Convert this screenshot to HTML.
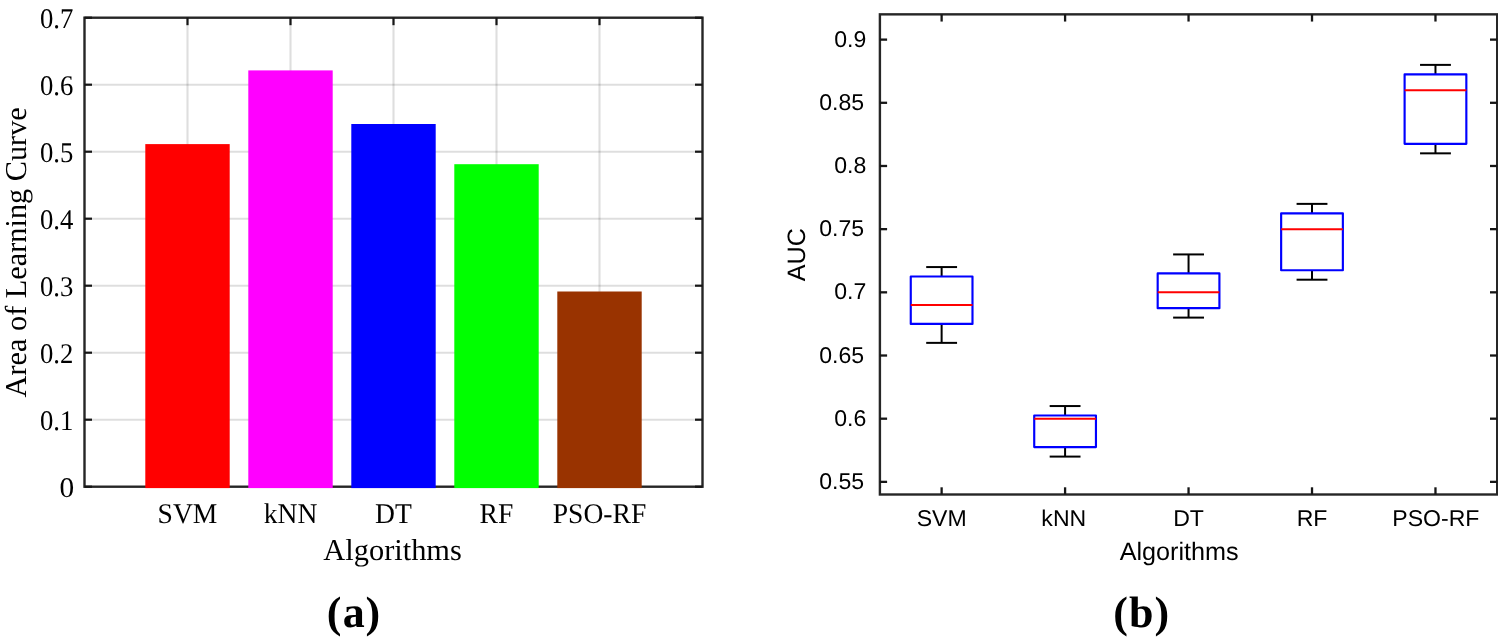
<!DOCTYPE html>
<html><head><meta charset="utf-8"><title>Figure</title>
<style>
html,body{margin:0;padding:0;background:#fff;}
body{width:1498px;height:641px;overflow:hidden;}
svg{display:block;}
text{text-rendering:geometricPrecision;}
.t{font-family:"Liberation Serif","Times New Roman",serif;fill:#000;}
.s{font-family:"Liberation Sans",Arial,sans-serif;fill:#000;}
</style></head><body>
<svg width="1498" height="641" viewBox="0 0 1498 641">
<rect width="1498" height="641" fill="#fff"/>
<g id="left">
<line x1="187.50" y1="17.7" x2="187.50" y2="486.7" stroke="#000" stroke-opacity="0.13" stroke-width="2.1"/>
<line x1="290.50" y1="17.7" x2="290.50" y2="486.7" stroke="#000" stroke-opacity="0.13" stroke-width="2.1"/>
<line x1="393.50" y1="17.7" x2="393.50" y2="486.7" stroke="#000" stroke-opacity="0.13" stroke-width="2.1"/>
<line x1="496.50" y1="17.7" x2="496.50" y2="486.7" stroke="#000" stroke-opacity="0.13" stroke-width="2.1"/>
<line x1="599.50" y1="17.7" x2="599.50" y2="486.7" stroke="#000" stroke-opacity="0.13" stroke-width="2.1"/>
<line x1="84.5" y1="419.70" x2="702.5" y2="419.70" stroke="#000" stroke-opacity="0.13" stroke-width="2.1"/>
<line x1="84.5" y1="352.70" x2="702.5" y2="352.70" stroke="#000" stroke-opacity="0.13" stroke-width="2.1"/>
<line x1="84.5" y1="285.70" x2="702.5" y2="285.70" stroke="#000" stroke-opacity="0.13" stroke-width="2.1"/>
<line x1="84.5" y1="218.70" x2="702.5" y2="218.70" stroke="#000" stroke-opacity="0.13" stroke-width="2.1"/>
<line x1="84.5" y1="151.70" x2="702.5" y2="151.70" stroke="#000" stroke-opacity="0.13" stroke-width="2.1"/>
<line x1="84.5" y1="84.70" x2="702.5" y2="84.70" stroke="#000" stroke-opacity="0.13" stroke-width="2.1"/>
<rect x="84.5" y="17.7" width="618.0" height="469.0" fill="none" stroke="#262626" stroke-width="2.4"/>
<line x1="187.50" y1="17.7" x2="187.50" y2="25.2" stroke="#161616" stroke-width="2.2"/>
<line x1="187.50" y1="486.7" x2="187.50" y2="479.2" stroke="#161616" stroke-width="2.2"/>
<line x1="290.50" y1="17.7" x2="290.50" y2="25.2" stroke="#161616" stroke-width="2.2"/>
<line x1="290.50" y1="486.7" x2="290.50" y2="479.2" stroke="#161616" stroke-width="2.2"/>
<line x1="393.50" y1="17.7" x2="393.50" y2="25.2" stroke="#161616" stroke-width="2.2"/>
<line x1="393.50" y1="486.7" x2="393.50" y2="479.2" stroke="#161616" stroke-width="2.2"/>
<line x1="496.50" y1="17.7" x2="496.50" y2="25.2" stroke="#161616" stroke-width="2.2"/>
<line x1="496.50" y1="486.7" x2="496.50" y2="479.2" stroke="#161616" stroke-width="2.2"/>
<line x1="599.50" y1="17.7" x2="599.50" y2="25.2" stroke="#161616" stroke-width="2.2"/>
<line x1="599.50" y1="486.7" x2="599.50" y2="479.2" stroke="#161616" stroke-width="2.2"/>
<line x1="84.5" y1="486.70" x2="92.0" y2="486.70" stroke="#161616" stroke-width="2.2"/>
<line x1="702.5" y1="486.70" x2="695.0" y2="486.70" stroke="#161616" stroke-width="2.2"/>
<line x1="84.5" y1="419.70" x2="92.0" y2="419.70" stroke="#161616" stroke-width="2.2"/>
<line x1="702.5" y1="419.70" x2="695.0" y2="419.70" stroke="#161616" stroke-width="2.2"/>
<line x1="84.5" y1="352.70" x2="92.0" y2="352.70" stroke="#161616" stroke-width="2.2"/>
<line x1="702.5" y1="352.70" x2="695.0" y2="352.70" stroke="#161616" stroke-width="2.2"/>
<line x1="84.5" y1="285.70" x2="92.0" y2="285.70" stroke="#161616" stroke-width="2.2"/>
<line x1="702.5" y1="285.70" x2="695.0" y2="285.70" stroke="#161616" stroke-width="2.2"/>
<line x1="84.5" y1="218.70" x2="92.0" y2="218.70" stroke="#161616" stroke-width="2.2"/>
<line x1="702.5" y1="218.70" x2="695.0" y2="218.70" stroke="#161616" stroke-width="2.2"/>
<line x1="84.5" y1="151.70" x2="92.0" y2="151.70" stroke="#161616" stroke-width="2.2"/>
<line x1="702.5" y1="151.70" x2="695.0" y2="151.70" stroke="#161616" stroke-width="2.2"/>
<line x1="84.5" y1="84.70" x2="92.0" y2="84.70" stroke="#161616" stroke-width="2.2"/>
<line x1="702.5" y1="84.70" x2="695.0" y2="84.70" stroke="#161616" stroke-width="2.2"/>
<line x1="84.5" y1="17.70" x2="92.0" y2="17.70" stroke="#161616" stroke-width="2.2"/>
<line x1="702.5" y1="17.70" x2="695.0" y2="17.70" stroke="#161616" stroke-width="2.2"/>
<rect x="145.30" y="144.10" width="84.40" height="344.00" fill="#ff0000"/>
<rect x="248.30" y="70.40" width="84.40" height="417.70" fill="#ff00ff"/>
<rect x="351.30" y="124.00" width="84.40" height="364.10" fill="#0000ff"/>
<rect x="454.30" y="164.20" width="84.40" height="323.90" fill="#00ff00"/>
<rect x="557.30" y="291.50" width="84.40" height="196.60" fill="#993300"/>
<text class="t" transform="translate(74.2 497.40) scale(1.03 1)" font-size="28.5" text-anchor="end">0</text>
<text class="t" transform="translate(73.3 430.40) scale(0.937 1)" font-size="28.5" text-anchor="end">0.1</text>
<text class="t" transform="translate(73.3 363.40) scale(0.937 1)" font-size="28.5" text-anchor="end">0.2</text>
<text class="t" transform="translate(73.3 296.40) scale(0.937 1)" font-size="28.5" text-anchor="end">0.3</text>
<text class="t" transform="translate(73.3 229.40) scale(0.937 1)" font-size="28.5" text-anchor="end">0.4</text>
<text class="t" transform="translate(73.3 162.40) scale(0.937 1)" font-size="28.5" text-anchor="end">0.5</text>
<text class="t" transform="translate(73.3 95.40) scale(0.937 1)" font-size="28.5" text-anchor="end">0.6</text>
<text class="t" transform="translate(73.3 28.40) scale(0.937 1)" font-size="28.5" text-anchor="end">0.7</text>
<text class="t" transform="translate(187.50 523.3) scale(0.968 1)" font-size="28.5" text-anchor="middle">SVM</text>
<text class="t" transform="translate(290.50 523.3) scale(0.968 1)" font-size="28.5" text-anchor="middle">kNN</text>
<text class="t" transform="translate(393.50 523.3) scale(0.968 1)" font-size="28.5" text-anchor="middle">DT</text>
<text class="t" transform="translate(496.50 523.3) scale(0.968 1)" font-size="28.5" text-anchor="middle">RF</text>
<text class="t" transform="translate(599.50 523.3) scale(0.968 1)" font-size="28.5" text-anchor="middle">PSO-RF</text>
<text class="t" x="392.6" y="559.6" font-size="30.4" text-anchor="middle">Algorithms</text>
<text class="t" transform="translate(26.4 252.3) rotate(-90)" font-size="30.3" text-anchor="middle">Area of Learning Curve</text>
<text class="t" x="326.85 342.7 365.5" y="627.2" font-size="44" font-weight="bold">(a)</text>
</g>
<g id="right">
<rect x="879.9" y="14.35" width="617.30" height="480.15" fill="none" stroke="#262626" stroke-width="2.4"/>
<line x1="941.63" y1="14.35" x2="941.63" y2="21.55" stroke="#161616" stroke-width="2.3"/>
<line x1="941.63" y1="494.5" x2="941.63" y2="487.3" stroke="#161616" stroke-width="2.3"/>
<line x1="1065.09" y1="14.35" x2="1065.09" y2="21.55" stroke="#161616" stroke-width="2.3"/>
<line x1="1065.09" y1="494.5" x2="1065.09" y2="487.3" stroke="#161616" stroke-width="2.3"/>
<line x1="1188.55" y1="14.35" x2="1188.55" y2="21.55" stroke="#161616" stroke-width="2.3"/>
<line x1="1188.55" y1="494.5" x2="1188.55" y2="487.3" stroke="#161616" stroke-width="2.3"/>
<line x1="1312.01" y1="14.35" x2="1312.01" y2="21.55" stroke="#161616" stroke-width="2.3"/>
<line x1="1312.01" y1="494.5" x2="1312.01" y2="487.3" stroke="#161616" stroke-width="2.3"/>
<line x1="1435.47" y1="14.35" x2="1435.47" y2="21.55" stroke="#161616" stroke-width="2.3"/>
<line x1="1435.47" y1="494.5" x2="1435.47" y2="487.3" stroke="#161616" stroke-width="2.3"/>
<line x1="879.9" y1="481.86" x2="887.1" y2="481.86" stroke="#161616" stroke-width="2.3"/>
<line x1="1497.2" y1="481.86" x2="1490.0" y2="481.86" stroke="#161616" stroke-width="2.3"/>
<text class="s" transform="translate(864.2 488.96) scale(1.012 1)" font-size="22.8" text-anchor="end">0.55</text>
<line x1="879.9" y1="418.69" x2="887.1" y2="418.69" stroke="#161616" stroke-width="2.3"/>
<line x1="1497.2" y1="418.69" x2="1490.0" y2="418.69" stroke="#161616" stroke-width="2.3"/>
<text class="s" transform="translate(866.3 425.79) scale(1.012 1)" font-size="22.8" text-anchor="end">0.6</text>
<line x1="879.9" y1="355.51" x2="887.1" y2="355.51" stroke="#161616" stroke-width="2.3"/>
<line x1="1497.2" y1="355.51" x2="1490.0" y2="355.51" stroke="#161616" stroke-width="2.3"/>
<text class="s" transform="translate(864.2 362.61) scale(1.012 1)" font-size="22.8" text-anchor="end">0.65</text>
<line x1="879.9" y1="292.33" x2="887.1" y2="292.33" stroke="#161616" stroke-width="2.3"/>
<line x1="1497.2" y1="292.33" x2="1490.0" y2="292.33" stroke="#161616" stroke-width="2.3"/>
<text class="s" transform="translate(866.3 299.43) scale(1.012 1)" font-size="22.8" text-anchor="end">0.7</text>
<line x1="879.9" y1="229.15" x2="887.1" y2="229.15" stroke="#161616" stroke-width="2.3"/>
<line x1="1497.2" y1="229.15" x2="1490.0" y2="229.15" stroke="#161616" stroke-width="2.3"/>
<text class="s" transform="translate(864.2 236.25) scale(1.012 1)" font-size="22.8" text-anchor="end">0.75</text>
<line x1="879.9" y1="165.98" x2="887.1" y2="165.98" stroke="#161616" stroke-width="2.3"/>
<line x1="1497.2" y1="165.98" x2="1490.0" y2="165.98" stroke="#161616" stroke-width="2.3"/>
<text class="s" transform="translate(866.3 173.08) scale(1.012 1)" font-size="22.8" text-anchor="end">0.8</text>
<line x1="879.9" y1="102.80" x2="887.1" y2="102.80" stroke="#161616" stroke-width="2.3"/>
<line x1="1497.2" y1="102.80" x2="1490.0" y2="102.80" stroke="#161616" stroke-width="2.3"/>
<text class="s" transform="translate(864.2 109.90) scale(1.012 1)" font-size="22.8" text-anchor="end">0.85</text>
<line x1="879.9" y1="39.62" x2="887.1" y2="39.62" stroke="#161616" stroke-width="2.3"/>
<line x1="1497.2" y1="39.62" x2="1490.0" y2="39.62" stroke="#161616" stroke-width="2.3"/>
<text class="s" transform="translate(866.3 46.72) scale(1.012 1)" font-size="22.8" text-anchor="end">0.9</text>
<line x1="941.63" y1="267.06" x2="941.63" y2="276.54" stroke="#000" stroke-width="2"/>
<line x1="941.63" y1="323.92" x2="941.63" y2="342.87" stroke="#000" stroke-width="2"/>
<line x1="926.20" y1="267.06" x2="957.06" y2="267.06" stroke="#000" stroke-width="2"/>
<line x1="926.20" y1="342.87" x2="957.06" y2="342.87" stroke="#000" stroke-width="2"/>
<rect x="910.76" y="276.54" width="61.73" height="47.38" fill="none" stroke="#0000ff" stroke-width="2.15" stroke-linejoin="round"/>
<line x1="910.76" y1="304.97" x2="972.50" y2="304.97" stroke="#ff0000" stroke-width="2"/>
<line x1="1065.09" y1="406.05" x2="1065.09" y2="415.53" stroke="#000" stroke-width="2"/>
<line x1="1065.09" y1="447.12" x2="1065.09" y2="456.59" stroke="#000" stroke-width="2"/>
<line x1="1049.66" y1="406.05" x2="1080.52" y2="406.05" stroke="#000" stroke-width="2"/>
<line x1="1049.66" y1="456.59" x2="1080.52" y2="456.59" stroke="#000" stroke-width="2"/>
<rect x="1034.22" y="415.53" width="61.73" height="31.59" fill="none" stroke="#0000ff" stroke-width="2.15" stroke-linejoin="round"/>
<line x1="1034.22" y1="418.69" x2="1095.95" y2="418.69" stroke="#ff0000" stroke-width="2"/>
<line x1="1188.55" y1="254.43" x2="1188.55" y2="273.38" stroke="#000" stroke-width="2"/>
<line x1="1188.55" y1="308.13" x2="1188.55" y2="317.60" stroke="#000" stroke-width="2"/>
<line x1="1173.12" y1="254.43" x2="1203.98" y2="254.43" stroke="#000" stroke-width="2"/>
<line x1="1173.12" y1="317.60" x2="1203.98" y2="317.60" stroke="#000" stroke-width="2"/>
<rect x="1157.68" y="273.38" width="61.73" height="34.75" fill="none" stroke="#0000ff" stroke-width="2.15" stroke-linejoin="round"/>
<line x1="1157.68" y1="292.33" x2="1219.41" y2="292.33" stroke="#ff0000" stroke-width="2"/>
<line x1="1312.01" y1="203.88" x2="1312.01" y2="213.36" stroke="#000" stroke-width="2"/>
<line x1="1312.01" y1="270.22" x2="1312.01" y2="279.70" stroke="#000" stroke-width="2"/>
<line x1="1296.58" y1="203.88" x2="1327.44" y2="203.88" stroke="#000" stroke-width="2"/>
<line x1="1296.58" y1="279.70" x2="1327.44" y2="279.70" stroke="#000" stroke-width="2"/>
<rect x="1281.14" y="213.36" width="61.73" height="56.86" fill="none" stroke="#0000ff" stroke-width="2.15" stroke-linejoin="round"/>
<line x1="1281.14" y1="229.15" x2="1342.88" y2="229.15" stroke="#ff0000" stroke-width="2"/>
<line x1="1435.47" y1="64.89" x2="1435.47" y2="74.37" stroke="#000" stroke-width="2"/>
<line x1="1435.47" y1="143.86" x2="1435.47" y2="153.34" stroke="#000" stroke-width="2"/>
<line x1="1420.04" y1="64.89" x2="1450.90" y2="64.89" stroke="#000" stroke-width="2"/>
<line x1="1420.04" y1="153.34" x2="1450.90" y2="153.34" stroke="#000" stroke-width="2"/>
<rect x="1404.61" y="74.37" width="61.73" height="69.50" fill="none" stroke="#0000ff" stroke-width="2.15" stroke-linejoin="round"/>
<line x1="1404.61" y1="90.16" x2="1466.34" y2="90.16" stroke="#ff0000" stroke-width="2"/>
<text class="s" transform="translate(941.63 526) scale(1.012 1)" font-size="22.8" text-anchor="middle">SVM</text>
<text class="s" transform="translate(1063.79 526) scale(1.012 1)" font-size="22.8" text-anchor="middle">kNN</text>
<text class="s" transform="translate(1188.55 526) scale(1.012 1)" font-size="22.8" text-anchor="middle">DT</text>
<text class="s" transform="translate(1312.01 526) scale(1.012 1)" font-size="22.8" text-anchor="middle">RF</text>
<text class="s" transform="translate(1435.87 526) scale(1.012 1)" font-size="22.8" text-anchor="middle">PSO-RF</text>
<text class="s" x="1179.2" y="559.9" font-size="25.2" text-anchor="middle">Algorithms</text>
<text class="s" transform="translate(805.3 254.6) rotate(-90)" font-size="25.2" text-anchor="middle">AUC</text>
<text class="t" x="1113.3 1129 1154.6" y="627.2" font-size="44" font-weight="bold">(b)</text>
</g>
</svg>
</body></html>
